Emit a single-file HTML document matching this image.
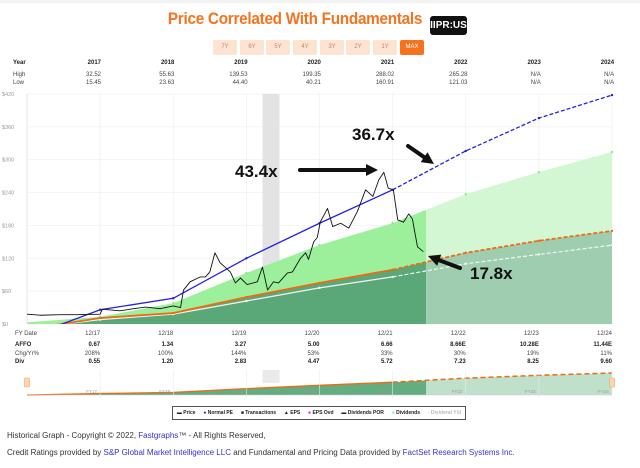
<!DOCTYPE html>
<html><head><meta charset="utf-8">
<style>
body{margin:0;width:640px;height:468px;background:#fff;font-family:"Liberation Sans",sans-serif;overflow:hidden;position:relative}
.abs{position:absolute}
.btn{position:absolute;top:40px;width:24px;height:15px;background:#fde3d2;color:#c8845e;font-size:6px;line-height:15px;text-align:center;border-radius:2px}
.t{position:absolute;font-size:6px;color:#444;white-space:nowrap}
.b{font-weight:bold;color:#222}
</style></head><body>
<div class="abs" style="left:0;top:0;width:640px;height:3px;background:#f2f2f2"></div>
<div class="abs" style="left:150px;top:9px;width:290px;text-align:center;color:#f5731f;font-size:17px;font-weight:bold;letter-spacing:-0.3px;transform:scaleX(0.9)">Price Correlated With Fundamentals</div>
<div class="abs" style="left:430px;top:16px;width:37px;height:19px;background:#111;color:#fff;font-size:10px;font-weight:bold;line-height:19px;text-align:center;border-radius:3px">IIPR:US</div>
<div class="btn" style="left:213px">7Y</div>
<div class="btn" style="left:240px">6Y</div>
<div class="btn" style="left:266px">5Y</div>
<div class="btn" style="left:293px">4Y</div>
<div class="btn" style="left:320px">3Y</div>
<div class="btn" style="left:346px">2Y</div>
<div class="btn" style="left:373px">1Y</div>
<div class="btn" style="left:400px;background:#f5731f;color:#fff">MAX</div>
<div id="tables"></div>
<svg id="chart" class="abs" style="left:0;top:0" width="640" height="468"></svg>
<div class="abs" style="left:172px;top:406px;width:292px;height:12px;border:1px solid #555;font-size:5px;font-weight:bold;color:#222;line-height:12px;white-space:nowrap;display:flex;justify-content:space-around">
<span>▬ Price</span><span><b style="color:#22c">●</b> Normal PE</span><span>■ Transactions</span><span>▲ EPS</span><span><b style="color:#e0e">●</b> EPS Ovd</span><span>▬ Dividends POR</span><span><b style="color:#8e8">●</b> Dividends</span><span style="color:#bbb">- Dividend Yld</span></div>
<div class="abs" style="left:7px;top:431px;font-size:8px;color:#333">Historical Graph - Copyright © 2022, <span style="color:#33c">Fastgraphs</span>™ - All Rights Reserved,</div>
<div class="abs" style="left:7px;top:448px;font-size:8px;color:#333">Credit Ratings provided by <span style="color:#33c">S&amp;P Global Market Intelligence LLC</span> and Fundamental and Pricing Data provided by <span style="color:#33c">FactSet Research Systems Inc.</span></div>
<script>
// ---- data ----
const years=["2017","2018","2019","2020","2021","2022","2023","2024"];
const highs=["32.52","55.63","139.53","199.35","288.02","265.28","N/A","N/A"];
const lows=["15.45","23.63","44.40","40.21","160.91","121.03","N/A","N/A"];
const fyDates=["12/17","12/18","12/19","12/20","12/21","12/22","12/23","12/24"];
const affo=["0.67","1.34","3.27","5.00","6.66","8.66E","10.28E","11.44E"];
const chg=["208%","100%","144%","53%","33%","30%","19%","11%"];
const divs=["0.55","1.20","2.83","4.47","5.72","7.23","8.25","9.60"];
const yTicks=[0,60,120,180,240,300,360,420];
const fyT=[2016.92,2017.92,2018.92,2019.92,2020.92,2021.92,2022.92,2023.92,2024.92];
const normalPE=[-24,26,47,120,184,245,316,376,418];
const epsLine=[-10,11,20,49,75,99,130,152,170];
const divPOR=[3,13,38,93,144,184,237,277,314];
const divLine=[-8,8,18,42,66,86,110,127,144];
const priceT=[2016.92,2017.1,2017.37,2017.6,2017.92,2017.95,2018.19,2018.33,2018.54,2018.74,2018.92,2019.02,2019.06,2019.15,2019.29,2019.36,2019.42,2019.49,2019.56,2019.7,2019.77,2019.84,2019.93,2020.07,2020.14,2020.21,2020.29,2020.36,2020.48,2020.55,2020.66,2020.73,2020.77,2020.84,2020.89,2020.93,2021.03,2021.1,2021.21,2021.32,2021.44,2021.55,2021.65,2021.73,2021.8,2021.86,2021.93,2021.99,2022.07,2022.14,2022.19,2022.26,2022.34];
const price=[18,16,17,17,18,27,24,27,31,28,33,30,62,77,86,86,95,130,112,95,75,84,72,77,104,62,77,75,93,95,120,130,118,150,158,186,211,178,184,175,206,245,233,263,277,248,245,190,186,201,192,141,132];
const projStart=2022.38;
// ---- axes ----
const X0=27,X1=612,Y0=324,Y1=94;
const xs=t=>X0+(t-2016.92)*73.125;
const ys=v=>Y0-(v/420)*(Y0-Y1);
const NS="http://www.w3.org/2000/svg";
const svg=document.getElementById('chart');
function mk(tag,attrs,parent){const e=document.createElementNS(NS,tag);for(const k in attrs)e.setAttribute(k,attrs[k]);(parent||svg).appendChild(e);return e;}
const defs=mk('defs',{});
const cp=mk('clipPath',{id:'pc'},defs);mk('rect',{x:X0,y:Y1-3,width:X1-X0+3,height:Y0-Y1+3},cp);
const tb=document.getElementById('tables');
function txt(s,x,y,cls,name){const d=document.createElement('div');d.className='t '+(cls||'');d.textContent=s;d.style.left=x+'px';d.style.top=y+'px';


tb.appendChild(d);return d;}
txt('Year',13,60,'b','year-label');txt('High',13,72,'','high-label');txt('Low',13,80,'','low-label');
txt('FY Date',15,331,'','fy-date-label');txt('AFFO',15,342,'b','affo-label');txt('Chg/Yr%',15,351,'','chg-label');txt('Div',15,359,'b','div-label');
years.forEach((y,i)=>{const cx=93+73.3*i;
[[y,60,'b','year-'+y],[highs[i],72,'','high-'+y],[lows[i],80,'','low-'+y]].forEach(a=>{const d=txt(a[0],cx-20,a[1],a[2],a[3]);d.style.width='28px';d.style.textAlign='right';});});
fyDates.forEach((f,i)=>{const cx=xs(fyT[i+1]);
[[f,331,'','fy-date-'+i],[affo[i],342,'b','affo-'+i],[chg[i],351,'','chg-'+i],[divs[i],359,'b','div-'+i]].forEach(a=>{const d=txt(a[0],cx-30,a[1],a[2],a[3]);d.style.width='30px';d.style.textAlign='right';});});
const g=mk('g',{});
yTicks.forEach(v=>{mk('line',{x1:X0,x2:X1,y1:ys(v),y2:ys(v),stroke:'#eceff4','stroke-width':0.7},g);
const t=mk('text',{x:2,y:ys(v)+2,'font-size':5.5,fill:'#999'},g);t.textContent='$'+v;});
fyT.forEach(t=>{mk('line',{x1:xs(t),x2:xs(t),y1:Y1,y2:Y0,stroke:'#eceff4','stroke-width':0.7},g);});
mk('line',{x1:X0,x2:X0,y1:Y1,y2:Y0,stroke:'#dde3ec','stroke-width':0.8},g);
const band=mk('rect',{x:xs(2020.25)-8,y:Y1,width:17,height:Y0-Y1,fill:'#e3e3e3'});

const plot=mk('g',{'clip-path':'url(#pc)'});
function areaPath(vals){let pts=[];for(let i=0;i<fyT.length;i++){pts.push([xs(fyT[i]),ys(vals[i])]);}
return 'M'+pts.map(p=>p.join(',')).join(' L')+' L'+xs(fyT[fyT.length-1])+','+Y0+' L'+X0+','+Y0+'Z';}
const cpA=mk('clipPath',{id:'hist'},defs);mk('rect',{x:0,y:0,width:xs(projStart),height:468},cpA);
const cpB=mk('clipPath',{id:'proj'},defs);mk('rect',{x:xs(projStart),y:0,width:640,height:468},cpB);
const ag=mk('g',{'clip-path':'url(#hist)'},plot);
const a1=mk('path',{d:areaPath(divPOR),fill:'#9cf09c'},ag);
const a2=mk('path',{d:areaPath(epsLine),fill:'#5aa878'},ag);
const pg=mk('g',{'clip-path':'url(#proj)'},plot);
const a3=mk('path',{d:areaPath(divPOR),fill:'#d3f7d3'},pg);
const a4=mk('path',{d:areaPath(epsLine),fill:'#9fcdb0'},pg);
function line(vals,color,w,name){
const solid=[],dash=[];for(let i=0;i<fyT.length;i++){const p=xs(fyT[i])+','+ys(vals[i]);if(i<=5)solid.push(p);if(i>=5)dash.push(p);}
const l1=mk('polyline',{points:solid.join(' '),fill:'none',stroke:color,'stroke-width':w},plot);
const l2=mk('polyline',{points:dash.join(' '),fill:'none',stroke:color,'stroke-width':w,'stroke-dasharray':'4,2'},plot);
for(let i=1;i<fyT.length;i++){const d=mk('circle',{cx:xs(fyT[i]),cy:ys(vals[i]),r:1.2,fill:color},plot);}}
line(divPOR,'#8be88b',0.1,'dividends-por-line');
line(divLine,'#f4f4f4',1.2,'dividends-line');
line(epsLine,'#f06a14',1.8,'eps-line');
line(normalPE,'#2222e0',1.3,'normal-pe-line');
const pp=priceT.map((t,i)=>xs(t)+','+ys(price[i])).join(' ');
const pl=mk('polyline',{points:pp,fill:'none',stroke:'#111','stroke-width':0.9,'stroke-linejoin':'round'},plot);

function ann(s,x,y,name){const t=mk('text',{x:x,y:y,'font-size':17,'font-weight':'bold',fill:'#111'});t.textContent=s;}
function arrow(x1,y1,x2,y2,name){const a=Math.atan2(y2-y1,x2-x1),L=12,W=6;const bx=x2-L*Math.cos(a),by=y2-L*Math.sin(a);
const gg=mk('g',{});
mk('line',{x1:x1,y1:y1,x2:bx,y2:by,stroke:'#111','stroke-width':4,'stroke-linecap':'round'},gg);
mk('polygon',{points:`${x2},${y2} ${bx-W*Math.sin(a)},${by+W*Math.cos(a)} ${bx+W*Math.sin(a)},${by-W*Math.cos(a)}`,fill:'#111'},gg);}
ann('43.4x',235,177,'annotation-43x');arrow(300,170,378,170,'arrow-43x');
ann('36.7x',352,140,'annotation-36x');arrow(408,146,434,164,'arrow-36x');
ann('17.8x',470,279,'annotation-17x');arrow(460,268,428,256,'arrow-17x');
// navigator
const NY0=395;const nys=v=>Math.min(NY0,NY0-(v/170)*22);
const nav=mk('g',{});
mk('rect',{x:xs(2020.25)-8,y:370,width:17,height:13,fill:'#eaeaea'},nav);
let np='M'+X0+','+NY0;for(let i=0;i<fyT.length;i++)np+=' L'+xs(fyT[i])+','+nys(epsLine[i]);np+=' L'+X1+','+NY0+'Z';
mk('path',{d:np,fill:'#63ad80','clip-path':'url(#hist)'},nav);mk('path',{d:np,fill:'#bfe0cb','clip-path':'url(#proj)'},nav);
let s1=[],s2=[];for(let i=0;i<fyT.length;i++){const p=xs(fyT[i])+','+nys(epsLine[i]);if(i<=5)s1.push(p);if(i>=5)s2.push(p);}
mk('polyline',{points:s1.join(' '),fill:'none',stroke:'#f06a14','stroke-width':1.3},nav);
mk('polyline',{points:s2.join(' '),fill:'none',stroke:'#f06a14','stroke-width':1.5,'stroke-dasharray':'5,3'},nav);
mk('line',{x1:X0,x2:X1,y1:NY0,y2:NY0,stroke:'#ccd','stroke-width':0.6},nav);
fyT.slice(1).forEach((t,i)=>{mk('line',{x1:xs(t),x2:xs(t),y1:370,y2:NY0+3,stroke:'#e8ebf0','stroke-width':0.6},nav);const tt=mk('text',{x:xs(t)-14,y:393,'font-size':4.5,fill:'#999'},nav);tt.textContent='FY'+years[i].slice(2);});
[X0,X1].forEach((x,i)=>{const h=mk('rect',{x:x-2.5,y:378,width:5,height:9,fill:'#fcd6b0',stroke:'#f5a05a','stroke-width':0.6,rx:1},svg);});
</script>
</body></html>
